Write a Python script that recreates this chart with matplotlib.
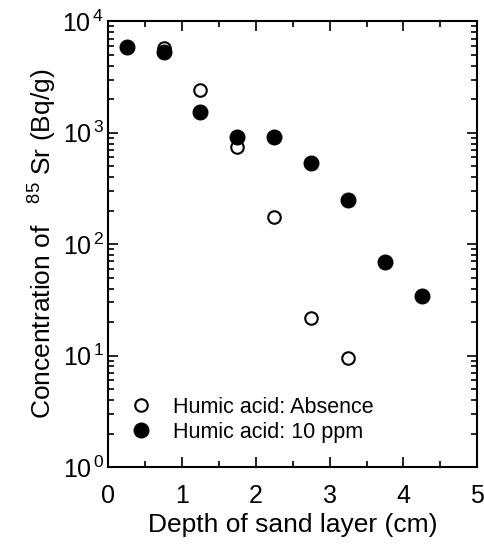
import math

import matplotlib
matplotlib.use("Agg")
import matplotlib.pyplot as plt
from matplotlib.ticker import FixedLocator, LogLocator, NullFormatter, FuncFormatter

plt.rcParams["font.family"] = "sans-serif"
plt.rcParams["font.sans-serif"] = ["Liberation Sans", "DejaVu Sans"]
plt.rcParams["mathtext.fontset"] = "custom"
plt.rcParams["mathtext.rm"] = "Liberation Sans"
plt.rcParams["mathtext.it"] = "Liberation Sans"

# depth (cm) and concentration of 85Sr (Bq/g)
depth_absence = [0.75, 1.25, 1.75, 2.25, 2.75, 3.25]
conc_absence = [5700, 2400, 740, 175, 21.7, 9.5]

depth_humic = [0.25, 0.75, 1.25, 1.75, 2.25, 2.75, 3.25, 3.75, 4.25]
conc_humic = [5850, 5350, 1530, 910, 910, 532, 248, 69, 34]

x_ticks = [0, 1, 2, 3, 4, 5]
x_minor = [0.5, 1.5, 2.5, 3.5, 4.5]


def decade_label(v, pos):
    return r"$10^{\,%d}$" % round(math.log10(v))


fig = plt.figure(figsize=(4.85, 5.45), dpi=100)
ax = fig.add_axes([0.223, 0.143, 0.761, 0.818])

ax.plot(depth_absence, conc_absence, "o", ms=9, mfc="white", mec="black", mew=1.5,
        label="Humic acid: Absence")
ax.plot(depth_humic, conc_humic, "o", ms=10.5, mfc="black", mec="black",
        label="Humic acid: 10 ppm")

ax.set_yscale("log")
ax.set_xlim(0, 5)
ax.set_ylim(1, 1e4)
ax.xaxis.set_major_locator(FixedLocator(x_ticks))
ax.xaxis.set_minor_locator(FixedLocator(x_minor))
ax.yaxis.set_major_locator(LogLocator(base=10, numticks=10))
ax.yaxis.set_minor_locator(LogLocator(base=10, subs=range(2, 10), numticks=10))
ax.yaxis.set_minor_formatter(NullFormatter())
ax.yaxis.set_major_formatter(FuncFormatter(decade_label))

ax.tick_params(which="both", direction="in", top=True, right=True, labelsize=18, width=1.2)
ax.tick_params(which="major", length=7)
ax.tick_params(which="minor", length=4)
ax.tick_params(axis="x", pad=12)
ax.tick_params(axis="y", pad=3)
for s in ax.spines.values():
    s.set_linewidth(1.5)

ax.set_xlabel("Depth of sand layer (cm)", fontsize=19, labelpad=4)
ax.set_ylabel(r"Concentration of   $^{85}$ Sr (Bq/g)", fontsize=19, labelpad=2)

ax.legend(loc="lower left", frameon=False, fontsize=15.5, handletextpad=0.9,
          borderaxespad=0.0, labelspacing=0.2, handlelength=1.2,
          bbox_to_anchor=(0.03, 0.035))

fig.savefig("out.png", dpi=100)
